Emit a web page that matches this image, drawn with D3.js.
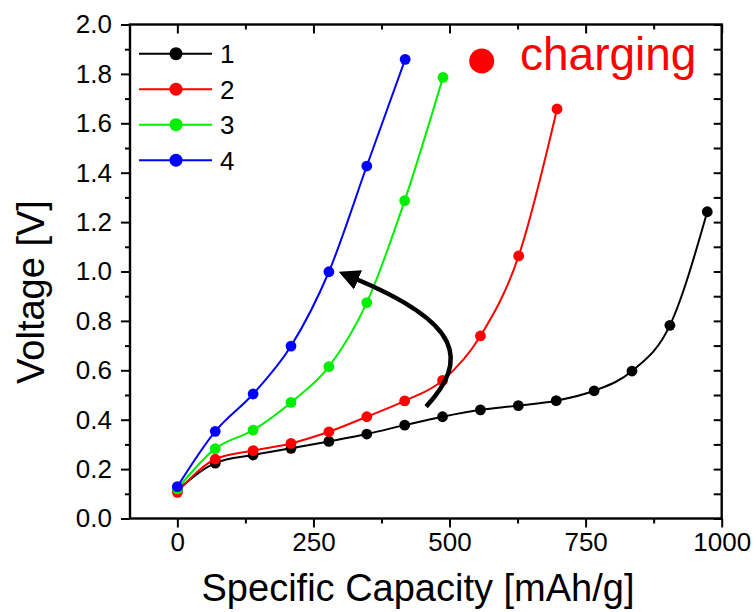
<!DOCTYPE html>
<html>
<head>
<meta charset="utf-8">
<script src="https://cdn.jsdelivr.net/npm/d3@7"></script>
<style>
  body { margin: 0; background: #fff; }
  svg { display: block; }
  text { font-family: "Liberation Sans", Arial, sans-serif; }
</style>
</head>
<body>
<script>
// Charge curves, cycles 1-4
const seriesNames = ['1', '2', '3', '4']
const seriesColors = ['#000000', '#ff0000', '#00ee00', '#0000ff']

const capacity1 = [0, 69.6, 139.2, 208.8, 278.4, 348, 417.6, 487.2, 556.8, 626.4, 696, 765.6, 835.2, 904.8, 973.5]
const voltage1  = [0.115, 0.224, 0.257, 0.284, 0.312, 0.342, 0.378, 0.412, 0.440, 0.457, 0.477, 0.517, 0.597, 0.782, 1.242]

const capacity2 = [0, 69.6, 139.2, 208.8, 278.4, 348, 417.6, 487.2, 556.8, 627, 697.5]
const voltage2  = [0.106, 0.240, 0.275, 0.304, 0.351, 0.412, 0.476, 0.559, 0.739, 1.063, 1.658]

const capacity3 = [0, 69.6, 139.2, 208.8, 278.4, 348, 417.6, 488]
const voltage3  = [0.12, 0.283, 0.358, 0.470, 0.615, 0.874, 1.287, 1.786]

const capacity4 = [0, 69.6, 139.2, 208.8, 278.4, 348, 418.5]
const voltage4  = [0.129, 0.353, 0.504, 0.698, 0.999, 1.427, 1.859]

const xTicks = [0, 250, 500, 750, 1000]
const xMinorTicks = [125, 375, 625, 875]
const yTicks = [0, 0.2, 0.4, 0.6, 0.8, 1.0, 1.2, 1.4, 1.6, 1.8, 2.0]
const yMinorTicks = [0.1, 0.3, 0.5, 0.7, 0.9, 1.1, 1.3, 1.5, 1.7, 1.9]

// arrow annotation, in data units: start, two control points, tip
const arrowPath = [[457, 0.453], [535, 0.64], [525, 0.79], [296, 0.999]]

const W = 756
const H = 612
const margin = { left: 130, right: 34.3, top: 24.5, bottom: 93.5 }
const innerW = W - margin.left - margin.right
const innerH = H - margin.top - margin.bottom

const svg = d3.select('body').append('svg')
  .attr('width', W)
  .attr('height', H)

const x = d3.scaleLinear().domain([-87, 1000]).range([0, innerW])
const y = d3.scaleLinear().domain([0, 2]).range([innerH, 0])

const g = svg.append('g').attr('transform', `translate(${margin.left},${margin.top})`)

// series
const series = [
  [capacity1, voltage1],
  [capacity2, voltage2],
  [capacity3, voltage3],
  [capacity4, voltage4]
].map(([xs, ys], i) => ({
  name: seriesNames[i],
  color: seriesColors[i],
  points: xs.map((c, j) => [c, ys[j]])
}))

const line = d3.line()
  .x(d => x(d[0]))
  .y(d => y(d[1]))
  .curve(d3.curveMonotoneX)

series.forEach(s => {
  g.append('path')
    .attr('d', line(s.points))
    .attr('fill', 'none')
    .attr('stroke', s.color)
    .attr('stroke-width', 2)
  g.selectAll(null)
    .data(s.points)
    .enter().append('circle')
    .attr('cx', d => x(d[0]))
    .attr('cy', d => y(d[1]))
    .attr('r', 5.4)
    .attr('fill', s.color)
})

// axes: left/bottom ticks out, top/right ticks in
const fmtY = d3.format('.1f')
const fmtX = d3.format('d')
const styleAxis = sel => {
  sel.select('.domain').remove()
  sel.selectAll('line').attr('stroke', '#000').attr('stroke-width', 2)
  sel.selectAll('text')
    .attr('fill', '#000')
    .style('font-size', '26px')
    .style('font-family', '"Liberation Sans", Arial, sans-serif')
}

g.append('g').attr('transform', `translate(0,${innerH})`)
  .call(d3.axisBottom(x).tickValues(xTicks).tickSize(9).tickPadding(5).tickFormat(fmtX))
  .call(styleAxis)
g.append('g').attr('transform', `translate(0,${innerH})`)
  .call(d3.axisBottom(x).tickValues(xMinorTicks).tickSize(5).tickFormat(''))
  .call(styleAxis)
g.append('g')
  .call(d3.axisTop(x).tickValues(xTicks).tickSize(-9).tickFormat(''))
  .call(styleAxis)
g.append('g')
  .call(d3.axisTop(x).tickValues(xMinorTicks).tickSize(-5).tickFormat(''))
  .call(styleAxis)

g.append('g')
  .call(d3.axisLeft(y).tickValues(yTicks).tickSize(9).tickPadding(9).tickFormat(fmtY))
  .call(styleAxis)
g.append('g')
  .call(d3.axisLeft(y).tickValues(yMinorTicks).tickSize(5).tickFormat(''))
  .call(styleAxis)
g.append('g').attr('transform', `translate(${innerW},0)`)
  .call(d3.axisRight(y).tickValues(yTicks).tickSize(-8).tickFormat(''))
  .call(styleAxis)
g.append('g').attr('transform', `translate(${innerW},0)`)
  .call(d3.axisRight(y).tickValues(yMinorTicks).tickSize(-8).tickFormat(''))
  .call(styleAxis)

// frame
g.append('rect')
  .attr('width', innerW)
  .attr('height', innerH)
  .attr('fill', 'none')
  .attr('stroke', '#000')
  .attr('stroke-width', 2.4)

// axis titles
svg.append('text')
  .attr('x', 418)
  .attr('y', 601)
  .attr('text-anchor', 'middle')
  .style('font-size', '38px')
  .text('Specific Capacity [mAh/g]')

svg.append('text')
  .attr('transform', 'translate(43.5,292) rotate(-90)')
  .attr('text-anchor', 'middle')
  .style('font-size', '38px')
  .text('Voltage [V]')

// legend
const legend = g.append('g').attr('transform', 'translate(9,29.2)')
series.forEach((s, i) => {
  const row = legend.append('g').attr('transform', `translate(0,${i * 35.5})`)
  row.append('line')
    .attr('x1', 0).attr('x2', 73)
    .attr('stroke', s.color)
    .attr('stroke-width', 2)
  row.append('circle')
    .attr('cx', 37).attr('r', 6.5)
    .attr('fill', s.color)
  row.append('text')
    .attr('x', 81)
    .attr('dy', '0.36em')
    .style('font-size', '26px')
    .text(s.name)
})

// "charging" label
svg.append('circle')
  .attr('cx', 481.7).attr('cy', 61)
  .attr('r', 12.5)
  .attr('fill', '#ff0000')
svg.append('text')
  .attr('x', 520)
  .attr('y', 70)
  .attr('fill', '#ff0000')
  .style('font-size', '46px')
  .text('charging')

// curved arrow
svg.append('defs').append('marker')
  .attr('id', 'head')
  .attr('viewBox', '0 0 10 10')
  .attr('refX', 2)
  .attr('refY', 5)
  .attr('markerUnits', 'userSpaceOnUse')
  .attr('markerWidth', 21)
  .attr('markerHeight', 21)
  .attr('orient', 'auto')
  .append('path')
  .attr('d', 'M0,0 L10,5 L0,10 Z')
  .attr('fill', '#000')

const ap = arrowPath.map(p => [x(p[0]), y(p[1])])
// stop the stroke a bit short of the tip so the head sits on it
const dx = ap[3][0] - ap[2][0]
const dy = ap[3][1] - ap[2][1]
const len = Math.hypot(dx, dy)
const endX = ap[3][0] - dx / len * 17
const endY = ap[3][1] - dy / len * 17
g.append('path')
  .attr('d', `M${ap[0]}C${ap[1]} ${ap[2]} ${endX},${endY}`)
  .attr('fill', 'none')
  .attr('stroke', '#000')
  .attr('stroke-width', 4.5)
  .attr('marker-end', 'url(#head)')
</script>
</body>
</html>
